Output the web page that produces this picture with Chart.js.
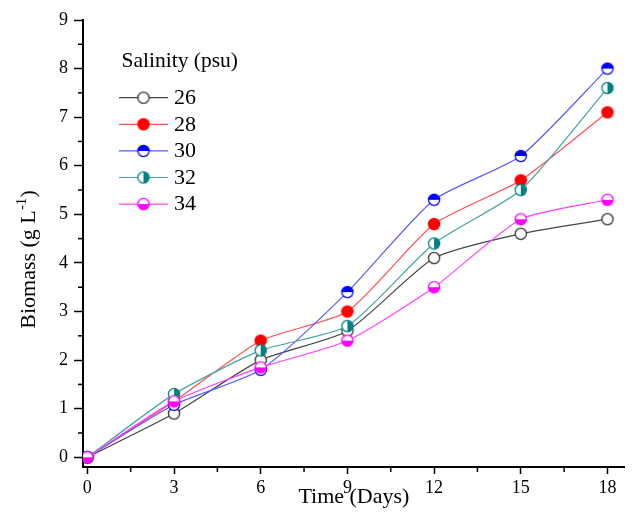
<!DOCTYPE html>
<html><head><meta charset="utf-8">
<script src="https://cdn.jsdelivr.net/npm/chart.js@4.4.1/dist/chart.umd.min.js"></script>
<style>html,body{margin:0;padding:0;background:#fff;}#wrap{width:632px;height:512px;}</style>
</head><body><div id="wrap"><canvas id="c" width="632" height="512"></canvas></div>
<script>
const days = [0, 3, 6, 9, 12, 15, 18];
const salinityLabels = ['26', '28', '30', '32', '34'];
const s26 = [0, 0.9, 2.0, 2.6, 4.1, 4.6, 4.9];
const s28 = [0, 1.15, 2.4, 3.0, 4.8, 5.7, 7.1];
const s30 = [0, 1.08, 1.8, 3.4, 5.3, 6.2, 8.0];
const s32 = [0, 1.3, 2.2, 2.7, 4.4, 5.5, 7.6];
const s34 = [0, 1.15, 1.85, 2.4, 3.5, 4.9, 5.3];
const xTicks = [0, 3, 6, 9, 12, 15, 18];
const yTicks = [0, 1, 2, 3, 4, 5, 6, 7, 8, 9];
const legendTitle = 'Salinity (psu)';
const xTitle = 'Time (Days)';
const yTitleMain = 'Biomass (g L';
const yTitleSup = '-1';
const yTitleEnd = ')';

const SERIF = '"Liberation Serif", "Times New Roman", serif';

function marker(kind, color) {
  const s = 16, r = 5.6, c = document.createElement('canvas');
  c.width = s; c.height = s;
  const g = c.getContext('2d');
  const cx = s / 2, cy = s / 2;
  g.beginPath(); g.arc(cx, cy, r, 0, 2 * Math.PI);
  g.fillStyle = kind === 'full' ? color : '#fff'; g.fill();
  let a0 = null, a1 = null;
  if (kind === 'top') { a0 = Math.PI; a1 = 2 * Math.PI; }
  if (kind === 'bottom') { a0 = 0; a1 = Math.PI; }
  if (kind === 'right') { a0 = -Math.PI / 2; a1 = Math.PI / 2; }
  if (a0 !== null) {
    g.beginPath(); g.arc(cx, cy, r, a0, a1); g.closePath();
    g.fillStyle = color; g.fill();
  }
  g.beginPath(); g.arc(cx, cy, r, 0, 2 * Math.PI);
  g.lineWidth = 1.3; g.strokeStyle = color; g.stroke();
  return c;
}

const seriesValues = [s26, s28, s30, s32, s34];
const lineColors = ['#444444', '#ff5050', '#5a5aff', '#45a3a3', '#ff40ff'];
const markColors = ['#333333', '#ff0000', '#0000ff', '#008080', '#ff00ff'];
const markKinds = ['open', 'full', 'top', 'right', 'bottom'];

const datasets = seriesValues.map((vals, i) => ({
  label: salinityLabels[i],
  data: days.map((d, j) => ({ x: d, y: vals[j] })),
  borderColor: lineColors[i],
  borderWidth: 1.2,
  backgroundColor: markColors[i],
  pointStyle: marker(markKinds[i], markColors[i]),
  pointRadius: 6,
  tension: 0.2,
  fill: false,
  order: seriesValues.length - i
}));

const minorTicks = {
  id: 'minorTicks',
  afterDraw(chart) {
    const ctx = chart.ctx, a = chart.chartArea;
    const xs = chart.scales.x, ys = chart.scales.y;
    ctx.save();
    ctx.strokeStyle = '#000'; ctx.lineWidth = 1.5;
    for (let i = 0; i < xTicks.length - 1; i++) {
      const px = xs.getPixelForValue((xTicks[i] + xTicks[i + 1]) / 2);
      ctx.beginPath(); ctx.moveTo(px, a.bottom); ctx.lineTo(px, a.bottom + 5); ctx.stroke();
    }
    for (let i = 0; i < yTicks.length - 1; i++) {
      const py = ys.getPixelForValue((yTicks[i] + yTicks[i + 1]) / 2);
      ctx.beginPath(); ctx.moveTo(a.left, py); ctx.lineTo(a.left - 5, py); ctx.stroke();
    }
    // y axis title with superscript
    const cx = 29, cy = 260;
    const fMain = '22px ' + SERIF, fSup = '14px ' + SERIF;
    ctx.font = fMain; const w1 = ctx.measureText(yTitleMain).width;
    const w3 = ctx.measureText(yTitleEnd).width;
    ctx.font = fSup; const w2 = ctx.measureText(yTitleSup).width;
    const tot = w1 + w2 + w3;
    ctx.translate(cx, cy); ctx.rotate(-Math.PI / 2);
    ctx.fillStyle = '#000'; ctx.textBaseline = 'middle'; ctx.textAlign = 'left';
    let x0 = -tot / 2;
    ctx.font = fMain; ctx.fillText(yTitleMain, x0, 0);
    ctx.font = fSup; ctx.fillText(yTitleSup, x0 + w1 + 0.5, -7);
    ctx.font = fMain; ctx.fillText(yTitleEnd, x0 + w1 + w2 + 1, 0);
    ctx.restore();

    // legend
    ctx.save();
    ctx.fillStyle = '#000';
    ctx.font = '21.5px ' + SERIF; ctx.textAlign = 'left'; ctx.textBaseline = 'alphabetic';
    ctx.fillText(legendTitle, a.left + 38.5, 66.5);
    ctx.font = '22px ' + SERIF; ctx.textBaseline = 'middle';
    chart.data.datasets.forEach((ds, i) => {
      const y = 97.7 + i * 26.6;
      ctx.strokeStyle = ds.borderColor; ctx.lineWidth = 1.2;
      ctx.beginPath(); ctx.moveTo(a.left + 36, y); ctx.lineTo(a.left + 85, y); ctx.stroke();
      const img = ds.pointStyle;
      ctx.drawImage(img, a.left + 60.5 - img.width / 2, y - img.height / 2);
      ctx.fillStyle = '#000';
      ctx.fillText(ds.label, a.left + 91, y + 0.5);
    });
    ctx.restore();
  }
};

new Chart(document.getElementById('c'), {
  type: 'line',
  data: { datasets },
  plugins: [minorTicks],
  options: {
    responsive: false,
    animation: false,
    devicePixelRatio: 1,
    layout: { padding: { top: 20, right: 5, left: 0, bottom: 0 } },
    plugins: { legend: { display: false }, tooltip: { enabled: false } },
    scales: {
      x: {
        type: 'linear', min: -0.15, max: 18.6,
        afterBuildTicks: s => { s.ticks = xTicks.map(v => ({ value: v })); },
        afterFit: s => { s.height = 45; },
        ticks: { color: '#000', font: { family: SERIF, size: 18 }, padding: 3, maxRotation: 0, autoSkip: false },
        grid: { display: true, drawOnChartArea: false, drawTicks: true, tickLength: 7, tickColor: '#000', tickWidth: 1.5 },
        border: { display: true, color: '#000', width: 2 },
        title: { display: true, text: xTitle, color: '#000', font: { family: SERIF, size: 22 }, padding: { top: 0, bottom: 2 } }
      },
      y: {
        type: 'linear', min: -0.2, max: 9,
        afterBuildTicks: s => { s.ticks = yTicks.map(v => ({ value: v })); },
        afterFit: s => { s.width = 83; },
        ticks: { color: '#000', font: { family: SERIF, size: 18 }, padding: 6, autoSkip: false },
        grid: { display: true, drawOnChartArea: false, drawTicks: true, tickLength: 9, tickColor: '#000', tickWidth: 1.5 },
        border: { display: true, color: '#000', width: 2 },
        title: { display: false, text: yTitleMain + yTitleSup + yTitleEnd }
      }
    }
  }
});
</script></body></html>
